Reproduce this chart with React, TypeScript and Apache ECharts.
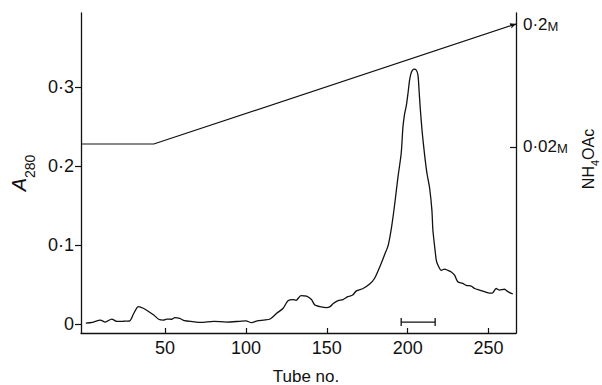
import React, { useEffect, useRef } from "react";
import * as echarts from "echarts";

// Absorbance at 280 nm vs tube number
const tubes = [1, 5, 10, 13, 17, 20, 24, 28, 30.5, 33.5, 36.5, 40, 43, 46, 49, 51, 54, 56, 59, 62, 67, 72, 80, 88, 96, 100, 103.5, 107, 111, 115, 119, 123, 126, 129, 131, 134, 137.5, 140.5, 142.6, 145.7, 149.8, 152, 154, 157, 160, 163, 166, 168.3, 172.4, 176.5, 179.6, 182.7, 185.8, 188, 190, 192, 194, 196, 197.1, 198.1, 199.2, 200.2, 201.2, 202.3, 203.9, 205.4, 206.4, 207, 207.8, 209, 210.5, 212, 213.6, 215, 215.6, 216.7, 217.7, 218.7, 220.8, 222.8, 224.9, 227, 229, 231, 234, 236.2, 239.3, 241.4, 244.4, 247.5, 250.6, 252.7, 254.7, 256.8, 259.9, 262, 265];
const a280 = [0.001, 0.002, 0.005, 0.0025, 0.0063, 0.0034, 0.0035, 0.0038, 0.013, 0.022, 0.02, 0.0156, 0.0114, 0.006, 0.005, 0.0063, 0.006, 0.008, 0.0072, 0.0042, 0.003, 0.002, 0.0034, 0.0025, 0.0034, 0.004, 0.0017, 0.004, 0.005, 0.0063, 0.0135, 0.02, 0.0295, 0.031, 0.03, 0.036, 0.0354, 0.031, 0.024, 0.022, 0.0207, 0.022, 0.026, 0.0295, 0.031, 0.0346, 0.0367, 0.042, 0.045, 0.0506, 0.058, 0.072, 0.088, 0.1, 0.122, 0.152, 0.186, 0.216, 0.25, 0.266, 0.277, 0.292, 0.309, 0.319, 0.323, 0.3215, 0.315, 0.298, 0.273, 0.243, 0.214, 0.19, 0.172, 0.144, 0.119, 0.098, 0.081, 0.0747, 0.068, 0.0696, 0.068, 0.066, 0.062, 0.0535, 0.0515, 0.049, 0.048, 0.045, 0.043, 0.041, 0.039, 0.0397, 0.045, 0.043, 0.044, 0.041, 0.038];

// NH4OAc gradient (right axis, M)
const gradTubes = [-2, 43, 267];
const gradConc = [0.0244, 0.0244, 0.2];

// Pooled fractions bar
const poolTubes = [196, 217];
const poolLevel = 0.0025;

const xTicks = [50, 100, 150, 200, 250];
const leftTicks = [0, 0.1, 0.2, 0.3];
const rightTicks = [0.02, 0.2];

const FONT = "Liberation Sans, Arial, sans-serif";

export default function App() {
  const ref = useRef<HTMLDivElement>(null);
  useEffect(() => {
    if (!ref.current) return;
    const chart = echarts.init(ref.current, null, { renderer: "svg" });
    const gLen = gradTubes.length;
    chart.setOption({
      animation: false,
      backgroundColor: "#ffffff",
      textStyle: { fontFamily: FONT, color: "#111" },
      grid: { left: 81, right: 86, top: 13, bottom: 52, containLabel: false, outerBoundsMode: "none" },
      xAxis: {
        type: "value",
        min: -2,
        max: 267,
        name: "Tube no.",
        nameLocation: "middle",
        nameGap: 35,
        nameTextStyle: { fontSize: 17, color: "#111", fontFamily: FONT, padding: [0, 0, 0, 15] },
        axisLine: { show: true, onZero: false, lineStyle: { color: "#111", width: 1.3 } },
        axisTick: { show: true, inside: true, length: 5, customValues: xTicks, lineStyle: { color: "#111", width: 1.2 } },
        axisLabel: { customValues: xTicks, fontSize: 18, color: "#111", margin: 6, fontFamily: FONT },
        splitLine: { show: false },
      },
      yAxis: [
        {
          type: "value",
          min: -0.0114,
          max: 0.394,
          position: "left",
          name: "{a|A}{s|280}",
          nameLocation: "middle",
          nameGap: 46,
          nameRotate: 90,
          nameTextStyle: {
            color: "#111",
            rich: {
              a: { fontSize: 20, fontStyle: "italic", fontFamily: FONT, color: "#111", lineHeight: 22, verticalAlign: "bottom" },
              s: { fontSize: 14, fontFamily: FONT, color: "#111", lineHeight: 14, verticalAlign: "bottom", padding: [0, 0, -8, 0] },
            },
          },
          axisLine: { show: true, onZero: false, lineStyle: { color: "#111", width: 1.3 } },
          axisTick: { show: true, inside: false, length: 6, customValues: leftTicks, lineStyle: { color: "#111", width: 1.2 } },
          axisLabel: {
            customValues: leftTicks,
            fontSize: 18,
            color: "#111",
            margin: 7,
            fontFamily: FONT,
            formatter: (v: number) => (v === 0 ? "0" : v.toFixed(1).replace(".", "\u00b7")),
          },
          splitLine: { show: false },
        },
        {
          type: "value",
          min: -0.2522,
          max: 0.2161,
          position: "right",
          axisLine: { show: true, onZero: false, lineStyle: { color: "#111", width: 1.3 } },
          axisTick: { show: true, inside: true, length: 6, customValues: rightTicks, lineStyle: { color: "#111", width: 1.2 } },
          axisLabel: {
            customValues: rightTicks,
            fontSize: 17,
            color: "#111",
            margin: 7,
            fontFamily: FONT,
            formatter: (v: number) => (v < 0.1 ? "0\u00b702{m|M}" : "0\u00b72{m|M}"),
            rich: { m: { fontSize: 13, fontFamily: FONT, color: "#111", verticalAlign: "bottom" } },
          },
          splitLine: { show: false },
        },
      ],
      graphic: [
        {
          type: "text",
          x: 588,
          y: 159,
          rotation: Math.PI / 2,
          style: {
            text: "{n|NH}{s|4}{n|OAc}",
            align: "center",
            verticalAlign: "middle",
            fill: "#111",
            rich: {
              n: { fontSize: 16, fontFamily: FONT, fill: "#111", lineHeight: 17, verticalAlign: "bottom" },
              s: { fontSize: 11, fontFamily: FONT, fill: "#111", lineHeight: 11, verticalAlign: "bottom", padding: [0, 0, -4, 0] },
            },
          },
        },
      ],
      series: [
        {
          type: "line",
          yAxisIndex: 0,
          data: tubes.map((t, i) => [t, a280[i]]),
          showSymbol: false,
          symbol: "none",
          smooth: 0.25,
          lineStyle: { color: "#111", width: 1.3 },
          silent: true,
        },
        {
          type: "line",
          yAxisIndex: 1,
          data: gradTubes.map((t, i) =>
            i === gLen - 1
              ? { value: [t, gradConc[i]], symbol: "arrow", symbolSize: [4, 6], symbolRotate: -71.7 }
              : { value: [t, gradConc[i]], symbol: "none" }
          ),
          lineStyle: { color: "#111", width: 1.2 },
          itemStyle: { color: "#111" },
          silent: true,
        },
        {
          type: "line",
          yAxisIndex: 0,
          data: poolTubes.map((t) => [t, poolLevel]),
          symbol: "rect",
          symbolSize: [1.3, 8],
          lineStyle: { color: "#111", width: 1.3 },
          itemStyle: { color: "#111" },
          silent: true,
        },
      ],
    });
    return () => chart.dispose();
  }, []);
  return <div ref={ref} style={{ position: "fixed", left: 0, top: 0, width: 602, height: 385 }} />;
}
